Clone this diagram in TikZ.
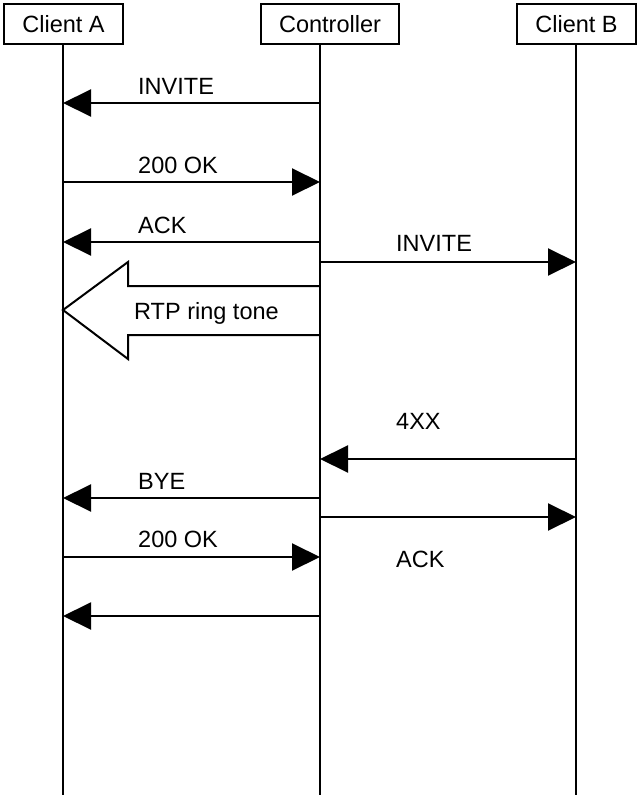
\documentclass[tikz,border=0pt]{standalone}
\usepackage{fontspec}
\setmainfont{Liberation Sans}
\usetikzlibrary{arrows.meta}
\begin{document}
\begin{tikzpicture}[x=1bp,y=-1bp,
  every node/.style={font=\fontsize{23.5bp}{28bp}\selectfont},
  actor/.style={draw,line width=2bp,minimum height=40bp,inner sep=0pt},
  life/.style={line width=2bp},
  msg/.style={line width=2bp,-{Triangle[length=28bp,width=27bp]}},
  lbl/.style={anchor=base west,inner sep=0pt},
  bigarrow/.style={line width=2bp,line join=miter}]
\useasboundingbox (0,0) rectangle (640,802);
% actors
\node[actor,minimum width=119bp] (A) at (63.5,24) {Client A};
\node[actor,minimum width=138bp] (C) at (330,24) {Controller};
\node[actor,minimum width=119bp] (B) at (576.5,24) {Client B};
% lifelines
\coordinate (LA) at (63,44);  \coordinate (LAe) at (63,795);
\coordinate (LC) at (320,44); \coordinate (LCe) at (320,795);
\coordinate (LB) at (576,44); \coordinate (LBe) at (576,795);
\draw[life] (LA) -- (LAe);
\draw[life] (LC) -- (LCe);
\draw[life] (LB) -- (LBe);
% rows
\coordinate (r1) at (0,103);
\coordinate (r2) at (0,182);
\coordinate (r3) at (0,242);
\coordinate (r4) at (0,262);
\coordinate (r5) at (0,459);
\coordinate (r6) at (0,498);
\coordinate (r7) at (0,517);
\coordinate (r8) at (0,557);
\coordinate (r9) at (0,616);
% messages
\draw[msg] (LC |- r1) -- (LA |- r1);
\node[lbl] (l1) at (138,94) {INVITE};
\draw[msg] (LA |- r2) -- (LC |- r2);
\node[lbl] (l2) at (138,173) {200 OK};
\draw[msg] (LC |- r3) -- (LA |- r3);
\node[lbl] (l3) at (138,233) {ACK};
\draw[msg] (LC |- r4) -- (LB |- r4);
\node[lbl] (l4) at (396,251) {INVITE};
% RTP ring tone big arrow
\coordinate (tip) at (63,310);
\draw[bigarrow] (320,286) -- (128,286) -- (128,262) -- (tip) -- (128,359) -- (128,335) -- (320,335);
\node[lbl] (l5) at (134,319) {RTP ring tone};
\draw[msg] (LB |- r5) -- (LC |- r5);
\node[lbl] (l6) at (396,429) {4XX};
\draw[msg] (LC |- r6) -- (LA |- r6);
\node[lbl] (l7) at (138,489) {BYE};
\draw[msg] (LC |- r7) -- (LB |- r7);
\draw[msg] (LA |- r8) -- (LC |- r8);
\node[lbl] (l8) at (138,547) {200 OK};
\node[lbl] (l9) at (396,567) {ACK};
\draw[msg] (LC |- r9) -- (LA |- r9);
\end{tikzpicture}
\end{document}
